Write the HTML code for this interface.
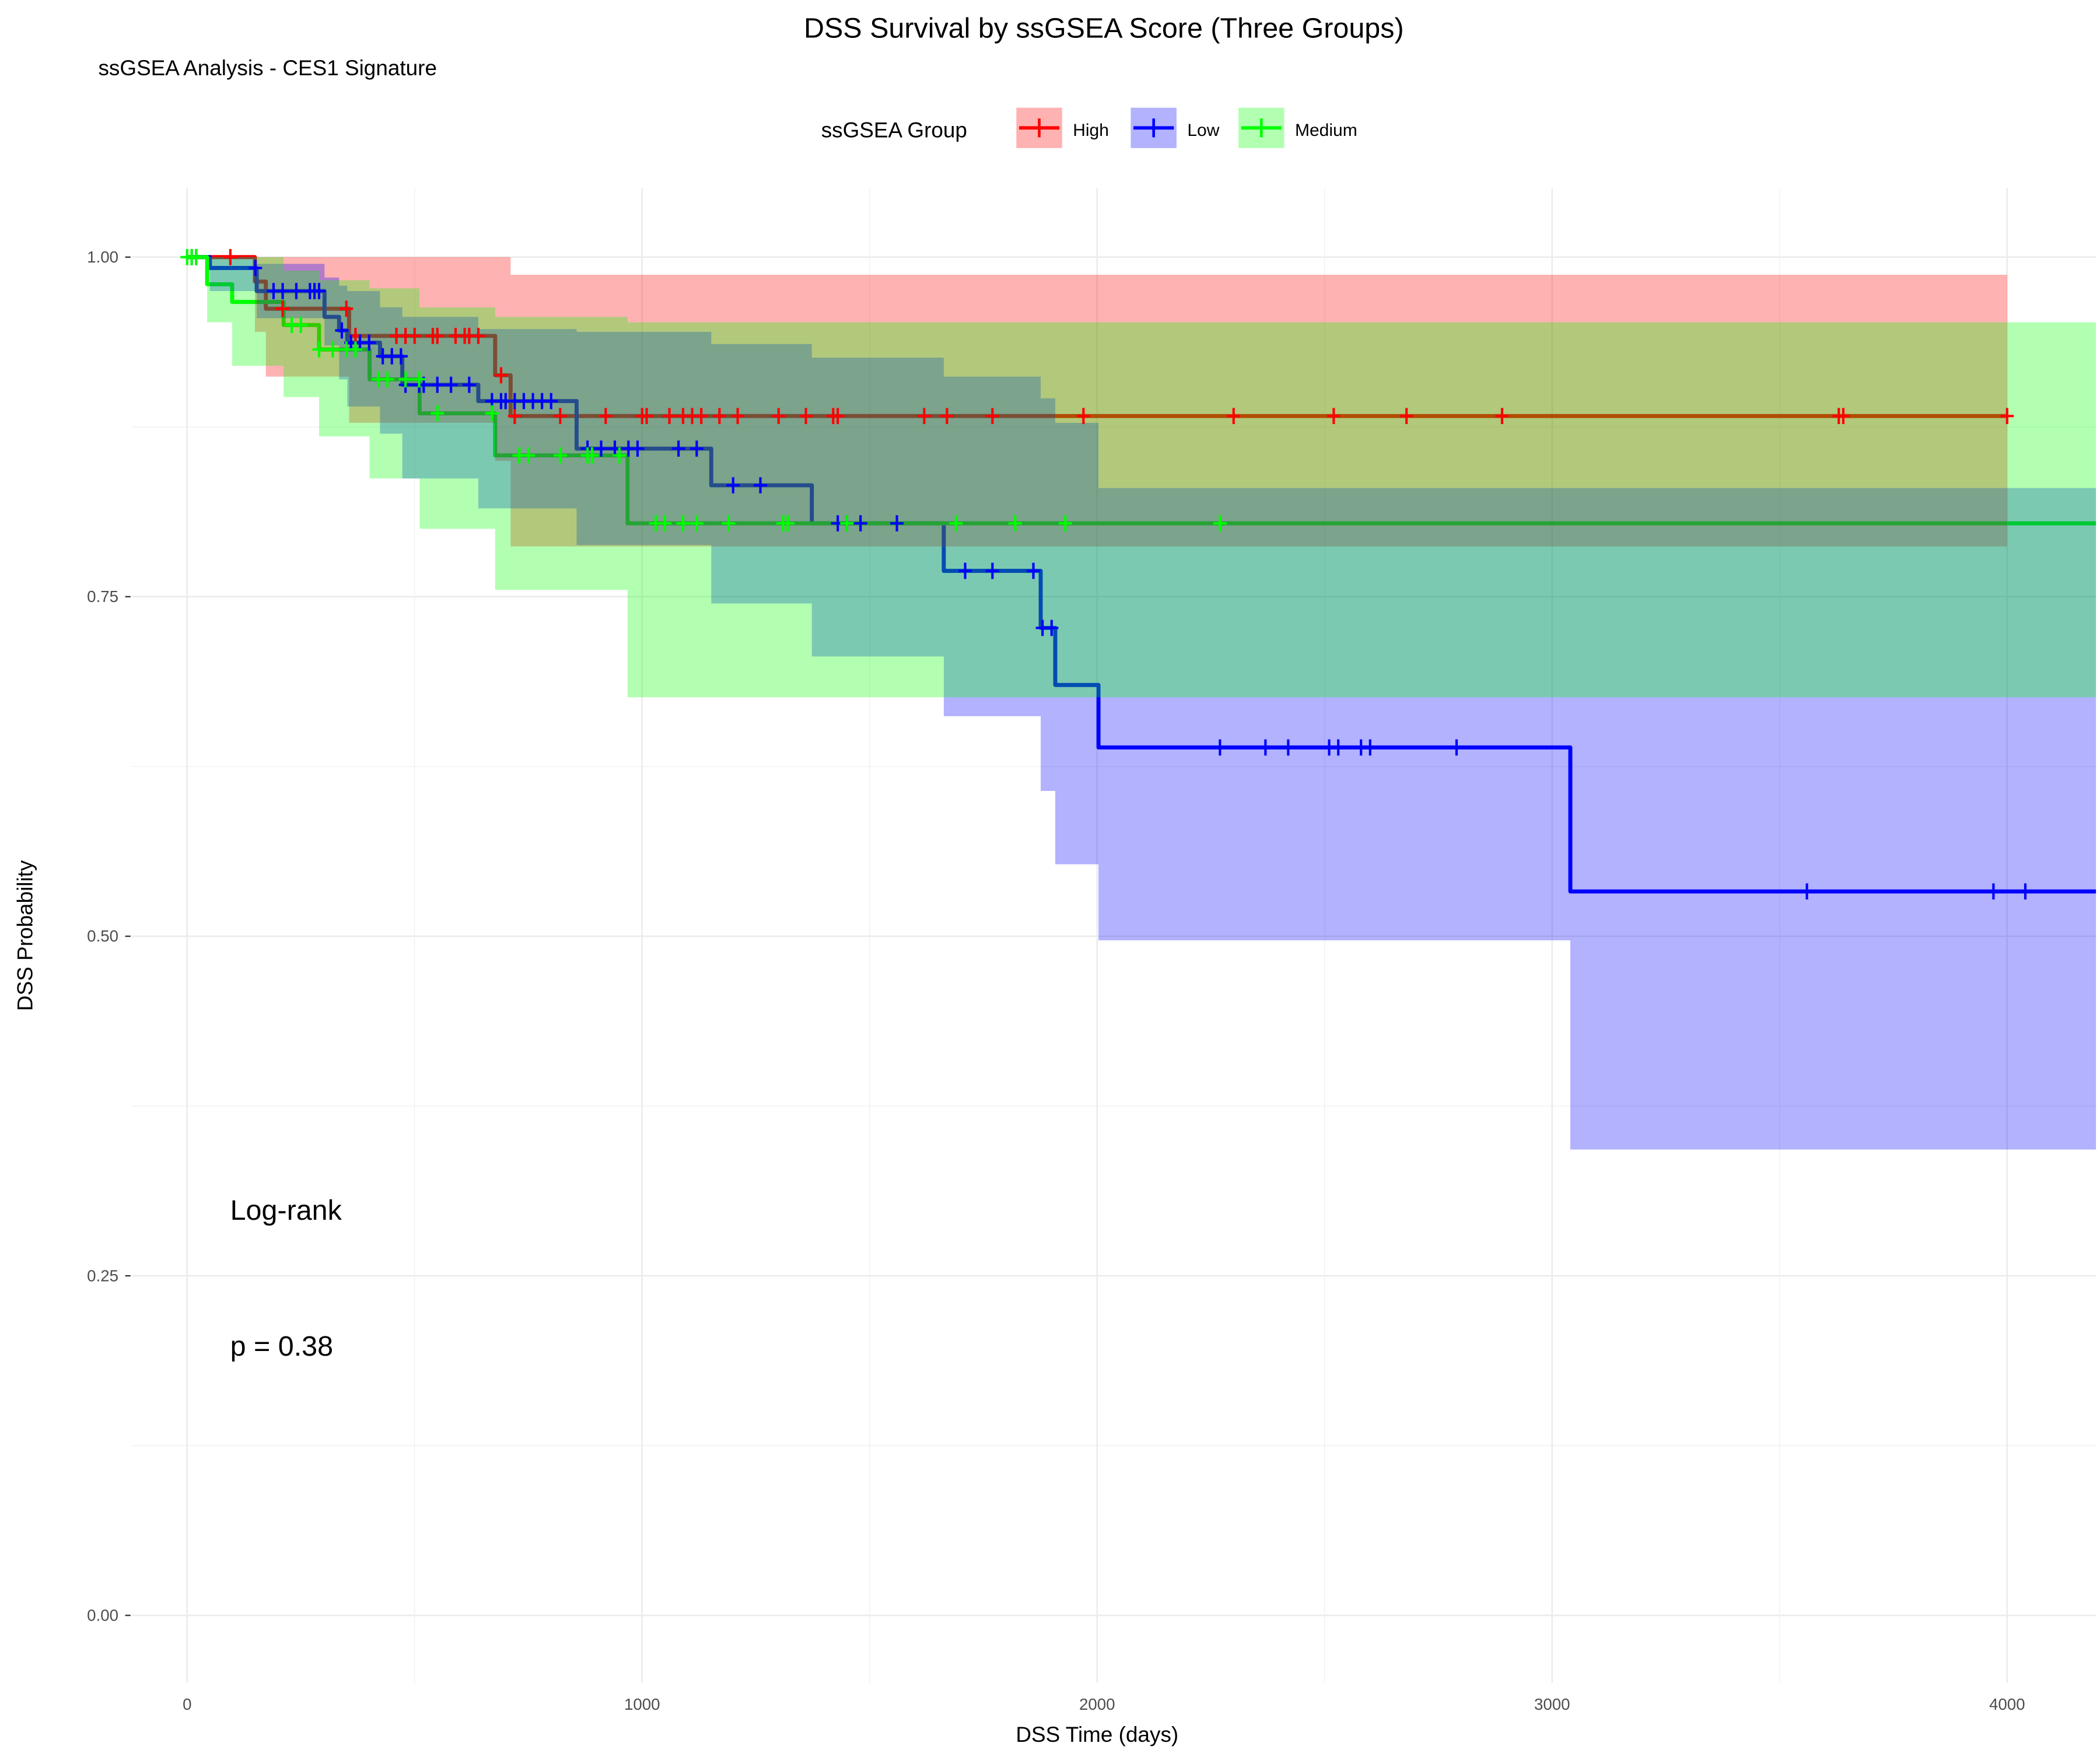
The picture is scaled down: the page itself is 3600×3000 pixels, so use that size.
<!DOCTYPE html>
<html><head><meta charset="utf-8"><style>
html,body{margin:0;padding:0;background:#fff;}
svg{display:block;font-family:"Liberation Sans",Arial,sans-serif;}
</style></head><body>
<svg id="chart" width="3600" height="3000" viewBox="0 0 1560 1300" xmlns="http://www.w3.org/2000/svg">
<rect width="1560" height="1300" fill="#fff"/>
<g id="grid"></g>
<g id="lines"></g>
<g id="bands"></g>
<g id="censors"></g>
<g id="axes"></g>
<text x="820" y="28" font-size="21" text-anchor="middle" fill="#000">DSS Survival by ssGSEA Score (Three Groups)</text>
<text x="73" y="56" font-size="16" fill="#000">ssGSEA Analysis - CES1 Signature</text>
<g>
<text x="610" y="102" font-size="16">ssGSEA Group</text>
<g><rect x="755" y="80" width="34" height="30" fill="#ff0000" fill-opacity="0.3"/><line x1="757" y1="95" x2="787" y2="95" stroke="#f00" stroke-width="2.5"/><line x1="772" y1="88" x2="772" y2="102" stroke="#f00" stroke-width="2"/><text x="797" y="101" font-size="13">High</text></g>
<g><rect x="840" y="80" width="34" height="30" fill="#0000ff" fill-opacity="0.3"/><line x1="842" y1="95" x2="872" y2="95" stroke="#00f" stroke-width="2.5"/><line x1="857" y1="88" x2="857" y2="102" stroke="#00f" stroke-width="2"/><text x="882" y="101" font-size="13">Low</text></g>
<g><rect x="920" y="80" width="34" height="30" fill="#00ff00" fill-opacity="0.3"/><line x1="922" y1="95" x2="952" y2="95" stroke="#0f0" stroke-width="2.5"/><line x1="937" y1="88" x2="937" y2="102" stroke="#0f0" stroke-width="2"/><text x="962" y="101" font-size="13">Medium</text></g>
</g>
<text x="171" y="906" font-size="21">Log-rank</text>
<text x="171" y="1007" font-size="21">p = 0.38</text>
<text x="815" y="1294" font-size="16" text-anchor="middle">DSS Time (days)</text>
<text transform="translate(24,695) rotate(-90)" font-size="16" text-anchor="middle">DSS Probability</text>
</svg>
<script>
const xTicks = [0, 1000, 2000, 3000, 4000];
const yTicks = [0, 0.25, 0.5, 0.75, 1];
const yTickLabels = ["0.00", "0.25", "0.50", "0.75", "1.00"];

const highT = [0, 149, 173, 356, 677, 711];
const highS = [1, 0.982, 0.962, 0.942, 0.913, 0.883];
const highLo = [1, 0.945, 0.912, 0.878, 0.85, 0.787];
const highHi = [1, 1, 1, 1, 1, 0.987];
const highEnd = 4000;
const highCens = [95,210,350,370,460,480,500,540,550,590,610,620,640,690,720,820,920,1000,1010,1060,1090,1110,1130,1170,1210,1300,1360,1420,1430,1620,1670,1770,1970,2300,2520,2680,2890,3630,3640,4000];

const lowT = [0, 50, 153, 302, 334, 352, 424, 473, 640, 856, 1152, 1373, 1663, 1876, 1908, 2003, 3040];
const lowS = [1, 0.992, 0.975, 0.956, 0.946, 0.937, 0.927, 0.906, 0.894, 0.859, 0.832, 0.804, 0.769, 0.727, 0.685, 0.639, 0.533];
const lowLo = [1, 0.975, 0.955, 0.935, 0.91, 0.89, 0.87, 0.837, 0.815, 0.788, 0.745, 0.706, 0.662, 0.607, 0.553, 0.497, 0.343];
const lowHi = [1, 1, 0.995, 0.985, 0.979, 0.975, 0.963, 0.956, 0.947, 0.945, 0.936, 0.926, 0.912, 0.896, 0.878, 0.83, 0.83];
const lowEnd = 4200;
const lowCens = [10,20,150,190,210,240,270,280,290,340,360,380,400,430,450,470,480,510,520,550,580,620,670,690,700,720,740,760,780,800,880,910,940,970,990,1080,1120,1200,1260,1430,1450,1480,1560,1710,1770,1860,1880,1900,2270,2370,2420,2510,2530,2580,2600,2790,3560,3970,4040];

const medT = [0, 44, 99, 212, 290, 401, 511, 677, 968];
const medS = [1, 0.98, 0.967, 0.95, 0.932, 0.91, 0.885, 0.854, 0.804];
const medLo = [1, 0.952, 0.92, 0.897, 0.868, 0.837, 0.80, 0.755, 0.676];
const medHi = [1, 1, 1, 0.99, 0.983, 0.977, 0.963, 0.956, 0.952];
const medEnd = 4200;
const medCens = [0,10,20,230,250,290,320,350,370,420,440,480,510,550,670,730,750,820,880,890,950,1030,1050,1090,1120,1190,1310,1320,1450,1690,1820,1930,2270];

const NS = "http://www.w3.org/2000/svg";
const X = t => 139 + t * 0.338;
const Y = s => 1200 - s * 1009;
const PL = 98, PR = 1557, PT = 140, PB = 1250;

function mk(tag, attrs, parent) {
  const e = document.createElementNS(NS, tag);
  for (const k in attrs) e.setAttribute(k, attrs[k]);
  parent.appendChild(e);
  return e;
}
const grid = document.getElementById('grid');
for (let i = 0; i < yTicks.length; i++) {
  const l = mk('line', {x1: PL, x2: PR, y1: Y(yTicks[i]), y2: Y(yTicks[i]), stroke: '#ebebeb', 'stroke-width': 1.1}, grid);
  
  
  if (i < yTicks.length - 1) {
    const m = mk('line', {x1: PL, x2: PR, y1: Y((yTicks[i] + yTicks[i+1]) / 2), y2: Y((yTicks[i] + yTicks[i+1]) / 2), stroke: '#f0f0f0', 'stroke-width': 0.6}, grid);
    
    
  }
}
for (let i = 0; i < xTicks.length; i++) {
  const l = mk('line', {x1: X(xTicks[i]), x2: X(xTicks[i]), y1: PT, y2: PB, stroke: '#ebebeb', 'stroke-width': 1.1}, grid);
  
  
  const mt = xTicks[i] + 500;
  if (X(mt) < PR) {
    const m = mk('line', {x1: X(mt), x2: X(mt), y1: PT, y2: PB, stroke: '#f0f0f0', 'stroke-width': 0.6}, grid);
    
    
  }
}
const axes = document.getElementById('axes');
for (let i = 0; i < yTicks.length; i++) {
  const t = mk('text', {x: 88, y: Y(yTicks[i]) + 4, 'font-size': 12, 'text-anchor': 'end', fill: '#4d4d4d'}, axes);
  t.textContent = yTickLabels[i];
  
  
  const tk = mk('line', {x1: 93, x2: 97, y1: Y(yTicks[i]), y2: Y(yTicks[i]), stroke: '#333', 'stroke-width': 1}, axes);
  
  
}
for (let i = 0; i < xTicks.length; i++) {
  const t = mk('text', {x: X(xTicks[i]), y: 1270, 'font-size': 12, 'text-anchor': 'middle', fill: '#4d4d4d'}, axes);
  t.textContent = String(xTicks[i]);
  
  
}

function stepPath(T, S, end) {
  let d = 'M' + X(T[0]) + ',' + Y(S[0]);
  for (let i = 1; i < T.length; i++) d += 'H' + X(T[i]) + 'V' + Y(S[i]);
  d += 'H' + Math.min(X(end), PR);
  return d;
}
function bandPath(T, Lo, Hi, end) {
  let d = 'M' + X(T[0]) + ',' + Y(Hi[0]);
  for (let i = 1; i < T.length; i++) d += 'H' + X(T[i]) + 'V' + Y(Hi[i]);
  d += 'H' + Math.min(X(end), PR) + 'V' + Y(Lo[Lo.length - 1]);
  for (let i = T.length - 1; i >= 1; i--) d += 'H' + X(T[i]) + 'V' + Y(Lo[i - 1]);
  d += 'H' + X(T[0]) + 'Z';
  return d;
}
function valAt(T, S, t) { let v = S[0]; for (let i = 0; i < T.length; i++) if (T[i] <= t) v = S[i]; return v; }

const groups = [
  {name: 'high', T: highT, S: highS, Lo: highLo, Hi: highHi, end: highEnd, C: highCens, col: '#ff0000'},
  {name: 'low', T: lowT, S: lowS, Lo: lowLo, Hi: lowHi, end: lowEnd, C: lowCens, col: '#0000ff'},
  {name: 'medium', T: medT, S: medS, Lo: medLo, Hi: medHi, end: medEnd, C: medCens, col: '#00ff00'}
];
const linesG = document.getElementById('lines');
const bandsG = document.getElementById('bands');
const censG = document.getElementById('censors');
groups.forEach(g => {
  const p = mk('path', {d: stepPath(g.T, g.S, g.end), fill: 'none', stroke: g.col, 'stroke-width': 3, 'stroke-linejoin': 'round'}, linesG);
  
  
  const b = mk('path', {d: bandPath(g.T, g.Lo, g.Hi, g.end), fill: g.col, 'fill-opacity': 0.3, stroke: 'none'}, bandsG);
  
  
});
groups.forEach(g => {
  g.C.forEach(t => {
    const cx = X(t), cy = Y(valAt(g.T, g.S, t));
    const c = mk('path', {d: 'M' + (cx - 5) + ',' + cy + 'H' + (cx + 5) + 'M' + cx + ',' + (cy - 6) + 'V' + (cy + 6), stroke: g.col, 'stroke-width': 1.8, fill: 'none'}, censG);
    
    
  });
});
</script>
</body></html>
